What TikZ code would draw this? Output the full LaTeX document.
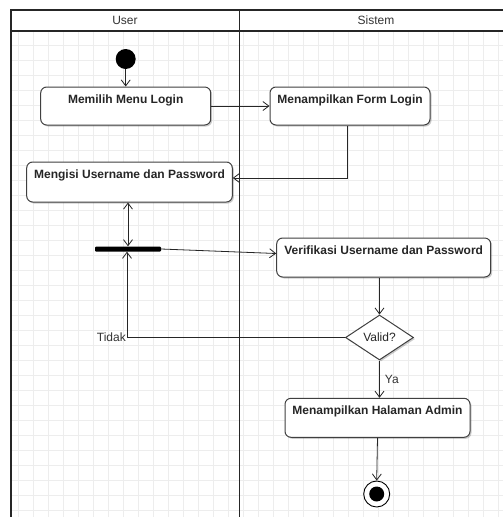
\documentclass[tikz,border=0pt]{standalone}
\usepackage{fontspec}
\setmainfont{Liberation Sans}
\usetikzlibrary{arrows.meta,shapes.geometric,shadows}
\begin{document}
\begin{tikzpicture}[x=1pt,y=-1pt,
  font=\fontsize{12}{14}\selectfont,
  lane/.style={draw=black!85,line width=1.6pt},
  act/.style={draw=black!75,line width=1pt,rounded corners=6pt,fill=white,
    font=\fontsize{12}{14}\selectfont\bfseries,text=black!85,
    inner sep=4pt,text height=12pt,text depth=18pt,
    drop shadow={shadow xshift=1.5pt,shadow yshift=-1.5pt,opacity=0.2,fill=black}},
  tip/.tip={Straight Barb[length=6pt,width=9pt]},
  flow/.style={draw=black!85,line width=0.8pt,-tip},
  lbl/.style={text=black!80,inner sep=1pt}]
  % canvas
  \fill[white] (0,0) rectangle (503,517);
  \useasboundingbox (0,0) rectangle (503,517);
  % background grid
  \foreach \gx in {18,33,...,503} \draw[black!7,line width=0.5pt] (\gx,31) -- (\gx,517);
  \foreach \gy in {45,60,...,517} \draw[black!7,line width=0.5pt] (11,\gy) -- (503,\gy);
  % swimlanes
  \draw[lane] (11,517) -- (11,10) -- (504,10);
  \draw[lane] (11,31) -- (504,31);
  \draw[lane] (239.5,10) -- (239.5,517);
  \node[text=black!80] (laneuser) at (125,20.5) {User};
  \node[text=black!80] (lanesys) at (376,20.5) {Sistem};
  % activities
  \node[circle,fill=black,minimum size=20pt,inner sep=0pt] (start) at (125.7,59) {};
  \node[act,minimum width=170pt] (login) at (125.7,106) {Memilih Menu Login};
  \node[act,minimum width=160pt] (form) at (350,106) {Menampilkan Form Login};
  \node[act,minimum width=205.6pt,text depth=20pt] (isi) at (129.5,182) {Mengisi Username dan Password};
  \node[fill=black,minimum width=66pt,minimum height=5pt,inner sep=0pt,rounded corners=1pt] (fork) at (128,249) {};
  \node[act,minimum width=214pt,text depth=19pt] (verif) at (383.7,257.5) {Verifikasi Username dan Password};
  \node[diamond,draw=black!75,line width=1pt,fill=white,minimum width=68pt,minimum height=45pt,inner sep=0pt,text=black!85,
    drop shadow={shadow xshift=1.5pt,shadow yshift=-1.5pt,opacity=0.2,fill=black}] (valid) at (379.5,337.5) {Valid?};
  \node[act,minimum width=185pt,text depth=19pt] (admin) at (377.5,417.8) {Menampilkan Halaman Admin};
  \node[circle,draw=black,line width=0.9pt,fill=white,minimum size=26pt,inner sep=0pt] (stop) at (376.7,494) {};
  \node[circle,fill=black,minimum size=15pt,inner sep=0pt] (stopdot) at (stop.center) {};
  % connectors
  \draw[flow] (start) -- (login);
  \draw[flow] (login.east) -- (form.west);
  \draw[flow] ([xshift=-3pt]form.south) |- ([yshift=4pt]isi.east);
  \draw[flow,tip-tip] (isi.south -| fork.north) -- (fork.north);
  \draw[flow] (fork.east) -- ([yshift=4pt]verif.west);
  \draw[flow] (verif.south -| valid.north) -- (valid.north);
  \coordinate (tidakc) at (127,337.5);
  \draw[flow] (valid.west) -- (tidakc) -- ([xshift=-1pt]fork.south);
  \node[lbl,anchor=east] (tidak) at (tidakc) {Tidak};
  \draw[flow] (valid.south) -- node[lbl,right=4pt] (ya) {Ya} (valid.south |- admin.north);
  \draw[flow] (admin.south) -- (stop.north);
\end{tikzpicture}
\end{document}
